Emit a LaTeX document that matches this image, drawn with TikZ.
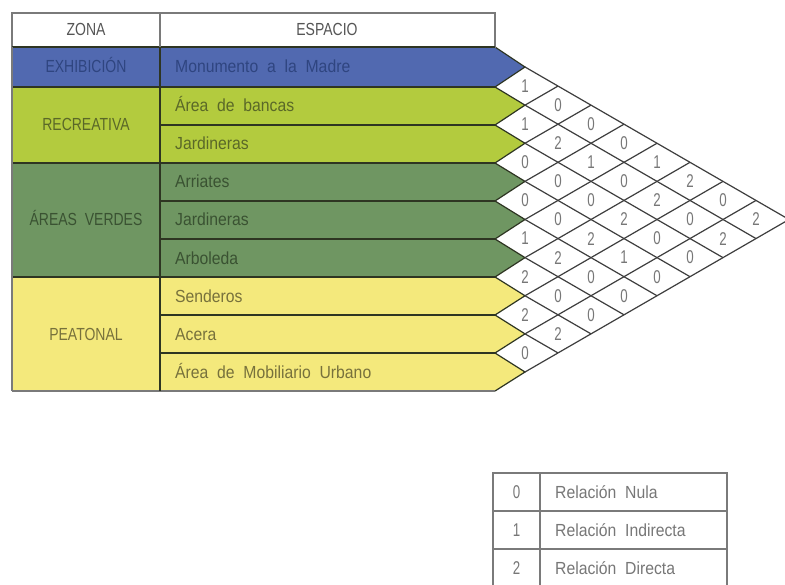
\documentclass[tikz,border=0pt]{standalone}
\usepackage{fontspec}
\setmainfont{Liberation Sans}[FakeStretch=0.9,WordSpace=2]
\newfontfamily\capsf{Liberation Sans}[FakeStretch=0.8,WordSpace=2]
\newfontfamily\digf{Liberation Sans}[FakeStretch=0.72]
\definecolor{cblue}{HTML}{5169B0}
\definecolor{clgreen}{HTML}{B3CB3E}
\definecolor{cdgreen}{HTML}{6F9662}
\definecolor{cyellow}{HTML}{F4E97C}
\definecolor{tblue}{HTML}{2F4580}
\definecolor{tlgreen}{HTML}{5A6828}
\definecolor{tdgreen}{HTML}{3A5232}
\definecolor{tyellow}{HTML}{77713C}
\definecolor{thead}{HTML}{555555}
\definecolor{tnum}{HTML}{777777}
\definecolor{rowline}{HTML}{2E3522}
\definecolor{gridline}{HTML}{3E3E3E}
\definecolor{boxline}{HTML}{7A7A7A}
\begin{document}
\begin{tikzpicture}[x=1bp,y=-1bp,
  rowtxt/.style={anchor=base west,inner sep=0pt,font=\fontsize{17.5bp}{20bp}\selectfont},
  zonetxt/.style={anchor=base,inner sep=0pt,font=\capsf\fontsize{17.5bp}{20bp}\selectfont},
  numtxt/.style={anchor=center,inner sep=0pt,text=tnum,font=\digf\fontsize{18.5bp}{20bp}\selectfont},
  legtxt/.style={anchor=base west,inner sep=0pt,text=tnum,font=\fontsize{17.5bp}{20bp}\selectfont},
  rowedge/.style={draw=rowline,line width=1.2bp,line join=miter},
  gridl/.style={draw=gridline,line width=1.2bp},
  boxl/.style={draw=boxline,line width=1.1bp}]
\useasboundingbox (0,0) rectangle (785,585);
\clip (0,0) rectangle (785,585);
\fill[white] (0,0) rectangle (785,585);
% row pentagons
\foreach \i/\t/\b/\c in {1/47/87/cblue,2/87/125/clgreen,3/125/163/clgreen,4/163/201/cdgreen,5/201/239/cdgreen,6/239/277/cdgreen,7/277/315/cyellow,8/315/353/cyellow,9/353/391/cyellow}{
  \pgfmathsetmacro{\ym}{67+(\i-1)*38.125}
  \fill[\c] (12,\t) -- (495,\t) -- (525,\ym) -- (495,\b) -- (12,\b) -- cycle;
  \draw[rowedge] (495,\t) -- (525,\ym) -- (495,\b);
}
% zone boundaries
\foreach \y in {87,163,277}{\draw[rowedge] (12,\y) -- (495,\y);}
\draw[boxl] (12,391) -- (495,391);
% intra-zone boundaries
\foreach \y in {125,201,239,315,353}{\draw[rowedge] (160,\y) -- (495,\y);}
% header
\draw[boxl] (12,13) rectangle (495,47);
\draw[rowedge] (12,47) -- (495,47);
\draw[rowedge] (160,47) -- (160,391);
\draw[boxl] (160,13) -- (160,47);
\draw[boxl] (12,47) -- (12,391);
% header texts
\node[zonetxt,text=thead] (hzona) at (86,36) {ZONA};
\node[zonetxt,text=thead] (hesp) at (327,36) {ESPACIO};
% zone texts
\node[zonetxt,text=tblue] (zexh) at (86,73) {EXHIBICIÓN};
\node[zonetxt,text=tlgreen] (zrec) at (86,131) {RECREATIVA};
\node[zonetxt,text=tdgreen] (zav) at (86,226) {ÁREAS VERDES};
\node[zonetxt,text=tyellow] (zpea) at (86,340) {PEATONAL};
% space texts
\node[rowtxt,text=tblue] (s1) at (175,73) {Monumento a la Madre};
\node[rowtxt,text=tlgreen] (s2) at (175,112) {Área de bancas};
\node[rowtxt,text=tlgreen] (s3) at (175,150) {Jardineras};
\node[rowtxt,text=tdgreen] (s4) at (175,188) {Arriates};
\node[rowtxt,text=tdgreen] (s5) at (175,226) {Jardineras};
\node[rowtxt,text=tdgreen] (s6) at (175,264) {Arboleda};
\node[rowtxt,text=tyellow] (s7) at (175,302) {Senderos};
\node[rowtxt,text=tyellow] (s8) at (175,340) {Acera};
\node[rowtxt,text=tyellow] (s9) at (175,378) {Área de Mobiliario Urbano};
% diamond grid
\def\hh{33}
\foreach \i in {1,...,8}{
  \pgfmathsetmacro{\ya}{67+(\i-1)*38.125}
  \pgfmathsetmacro{\xb}{525+(9-\i)*\hh}
  \pgfmathsetmacro{\yb}{(\ya+372)/2}
  \draw[gridl] (525,\ya) -- (\xb,\yb);
}
\foreach \j in {2,...,9}{
  \pgfmathsetmacro{\ya}{67+(\j-1)*38.125}
  \pgfmathsetmacro{\xb}{525+(\j-1)*\hh}
  \pgfmathsetmacro{\yb}{(\ya+67)/2}
  \draw[gridl] (525,\ya) -- (\xb,\yb);
}
% matrix values
\foreach \i/\j/\v in {1/2/1,2/3/1,3/4/0,4/5/0,5/6/1,6/7/2,7/8/2,8/9/0,
  1/3/0,2/4/2,3/5/0,4/6/0,5/7/2,6/8/0,7/9/2,
  1/4/0,2/5/1,3/6/0,4/7/2,5/8/0,6/9/0,
  1/5/0,2/6/0,3/7/2,4/8/1,5/9/0,
  1/6/1,2/7/2,3/8/0,4/9/0,
  1/7/2,2/8/0,3/9/0,
  1/8/0,2/9/2,
  1/9/2}{
  \pgfmathsetmacro{\cx}{525+(\j-\i-1)*\hh}
  \pgfmathsetmacro{\cy}{67+(\i+\j-2)*38.125/2}
  \node[numtxt] (c-\i-\j) at (\cx,\cy) {\v};
}
% legend
\draw[boxl] (493,473) rectangle (727,587);
\draw[boxl] (493,511) -- (727,511);
\draw[boxl] (493,549) -- (727,549);
\draw[boxl] (540,473) -- (540,587);
\node[numtxt] (l0) at (516.5,492) {0};
\node[numtxt] (l1) at (516.5,530) {1};
\node[numtxt] (l2) at (516.5,568) {2};
\node[legtxt] (lt0) at (555,498) {Relación Nula};
\node[legtxt] (lt1) at (555,536) {Relación Indirecta};
\node[legtxt] (lt2) at (555,574) {Relación Directa};
\end{tikzpicture}
\end{document}
